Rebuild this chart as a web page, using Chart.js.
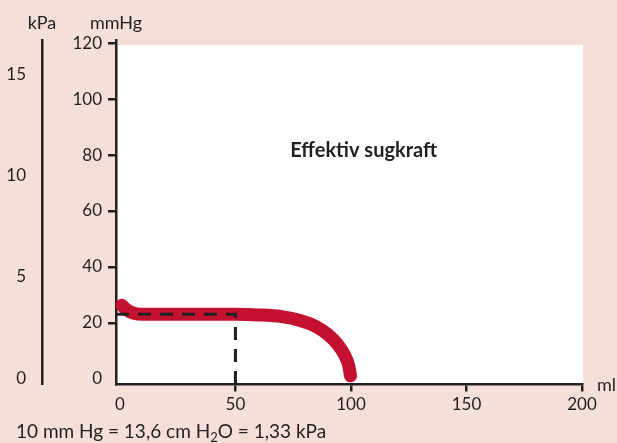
<!DOCTYPE html>
<html>
<head>
<meta charset="utf-8">
<script src="https://cdn.jsdelivr.net/npm/chart.js@4/dist/chart.umd.min.js"></script>
<style>
  html, body { margin: 0; padding: 0; background: #f5dfd9; }
  #wrap { width: 617px; height: 443px; }
</style>
</head>
<body>
<div id="wrap"><canvas id="chart" width="617" height="443"></canvas></div>
<script>
// volym (ml) och effektivt undertryck (mmHg)
const volume   = [0.8, 3, 6, 10, 30, 50, 60, 70, 78, 85, 90, 94, 97, 99, 99.8];
const pressure = [26.3, 24.6, 23.4, 23.0, 23.0, 23.0, 22.8, 22.2, 20.8, 18.6, 15.8, 12.5, 8.8, 4.8, 1.0];

// streckad markering vid 50 ml
const markVolume   = [-1.7, 50, 50];
const markPressure = [23, 23, -2.1];

const xTicks    = [0, 50, 100, 150, 200];
const mmHgTicks = [0, 20, 40, 60, 80, 100, 120];
const kPaTicks  = [0, 5, 10, 15];

const INK = '#231f20';
const RED = '#c3112f';
const FONT = 'Lato';

// vit bakgrund för diagramytan + texter
const decor = {
    id: 'decor',
    beforeDraw(chart) {
        const { ctx, chartArea: a } = chart;
        ctx.save();
        ctx.fillStyle = '#ffffff';
        ctx.fillRect(a.left, a.top + 5, a.right - a.left + 1, a.bottom - a.top - 5);
        ctx.restore();
    },
    afterDraw(chart) {
        const { ctx, chartArea: a, scales } = chart;
        ctx.save();
        ctx.fillStyle = INK;
        ctx.textBaseline = 'alphabetic';
        ctx.font = `18px ${FONT}`;
        ctx.textAlign = 'center';
        ctx.fillText('kPa', scales.kpa.right, 29);
        ctx.fillText('mmHg', scales.y.right, 29);
        ctx.textAlign = 'left';
        ctx.fillText('ml', a.right + 15, 391);

        // fotnot med nedsänkt 2
        let x = 16;
        const base = 438;
        const parts = [['10 mm Hg = 13,6 cm H', 0], ['2', 1], ['O = 1,33 kPa', 0]];
        parts.forEach(([t, sub]) => {
            ctx.font = sub ? `13px ${FONT}` : `19px ${FONT}`;
            ctx.fillText(t, x, sub ? base + 4 : base);
            x += ctx.measureText(t).width;
        });

        ctx.font = `bold 20px ${FONT}`;
        ctx.textAlign = 'center';
        ctx.fillText('Effektiv sugkraft', scales.x.getPixelForValue(105.5), scales.y.getPixelForValue(82) + 7);
        ctx.restore();
    }
};

new Chart(document.getElementById('chart'), {
    type: 'line',
    data: {
        datasets: [
            {
                data: markVolume.map((v, i) => ({ x: v, y: markPressure[i] })),
                borderColor: INK,
                borderWidth: 3,
                borderDash: [13, 9],
                pointRadius: 0,
                tension: 0,
                clip: false,
                order: 0
            },
            {
                data: volume.map((v, i) => ({ x: v, y: pressure[i] })),
                borderColor: RED,
                borderWidth: 13,
                borderCapStyle: 'round',
                borderJoinStyle: 'round',
                cubicInterpolationMode: 'monotone',
                pointRadius: 0,
                order: 1
            }
        ]
    },
    options: {
        responsive: false,
        animation: false,
        layout: { padding: { top: 40, right: 35, left: 0, bottom: 0 } },
        plugins: { legend: { display: false }, tooltip: { enabled: false } },
        scales: {
            x: {
                type: 'linear',
                min: -1.7,
                max: 200,
                afterBuildTicks: s => { s.ticks = xTicks.map(v => ({ value: v })); },
                afterFit: s => { s.height = 58.5; },
                border: { color: INK, width: 2.5 },
                grid: {
                    drawOnChartArea: false,
                    tickLength: 7,
                    lineWidth: 2.5,
                    color: c => (c.tick && c.tick.value === 0) ? 'rgba(0,0,0,0)' : INK
                },
                ticks: { color: INK, font: { family: FONT, size: 17 }, padding: 3, maxRotation: 0 }
            },
            y: {
                type: 'linear',
                position: 'left',
                weight: 0,
                min: -2.1,
                max: 121.2,
                afterBuildTicks: s => { s.ticks = mmHgTicks.map(v => ({ value: v })); },
                afterFit: s => { s.width = 74; },
                border: { color: INK, width: 2.5 },
                grid: {
                    drawOnChartArea: false,
                    tickLength: 8,
                    lineWidth: 2.5,
                    color: c => (c.tick && c.tick.value === 0) ? 'rgba(0,0,0,0)' : INK
                },
                ticks: { color: INK, font: { family: FONT, size: 17 }, padding: 6 }
            },
            kpa: {
                type: 'linear',
                position: 'left',
                weight: 1,
                min: -0.32,
                max: 16.73,
                afterBuildTicks: s => { s.ticks = kPaTicks.map(v => ({ value: v })); },
                afterFit: s => { s.width = 42; },
                border: { color: INK, width: 2.5 },
                grid: { drawOnChartArea: false, drawTicks: false },
                ticks: { color: INK, font: { family: FONT, size: 17 }, padding: 16 }
            }
        }
    },
    plugins: [decor]
});
</script>
</body>
</html>
